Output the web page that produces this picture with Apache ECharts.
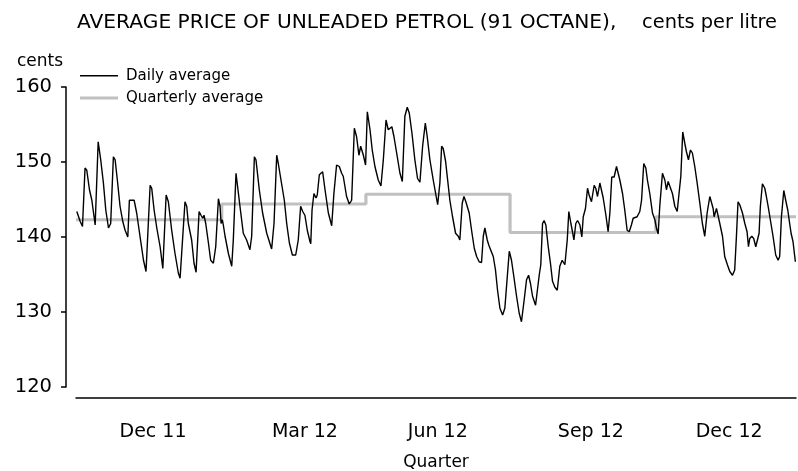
<!DOCTYPE html>
<html>
<head>
<meta charset="utf-8">
<script src="https://cdn.jsdelivr.net/npm/echarts@6/dist/echarts.min.js"></script>
<style>
html,body{margin:0;padding:0;background:#fff;}
#chart{width:798px;height:471px;}
</style>
</head>
<body>
<div id="chart"></div>
<script>
// Day number counted from 1 Oct 2011
const days = [
0.5,2.6,4.1,5.7,6.8,8.5,10.0,12.1,14.0,15.6,17.3,18.8,20.5,21.9,23.6,24.7,26.1,27.8,29.5,31.0,
32.7,33.7,35.2,36.7,38.3,40.4,42.6,44.2,45.3,46.8,47.8,49.3,51.0,53.1,54.8,56.9,58.3,60.4,62.5,64.6,
65.7,68.8,69.9,70.9,73.0,74.5,75.8,77.7,78.9,80.0,80.8,81.9,83.6,85.0,86.7,88.2,89.9,90.9,91.6,92.4,
93.0,94.1,96.2,98.3,99.3,101.0,101.9,103.5,105.6,107.7,109.8,110.9,112.6,113.6,115.7,117.8,120.4,123.5,125.0,126.7,
127.7,129.4,131.5,133.0,134.7,136.6,138.7,140.3,141.8,143.1,144.5,146.0,147.7,148.2,149.0,150.2,151.5,152.3,153.6,154.6,
155.7,157.2,159.3,161.4,162.8,164.5,166.2,167.7,168.7,170.8,172.5,174.0,175.7,177.1,178.6,179.7,180.5,181.4,182.8,183.9,
185.6,187.0,188.7,190.8,192.5,194.0,195.7,197.1,198.2,199.4,200.7,202.8,204.5,206.0,207.6,209.1,210.4,212.1,213.9,215.6,
217.1,218.8,220.5,221.7,223.4,225.5,227.2,228.3,229.7,230.8,231.8,233.3,234.6,236.0,237.7,239.6,241.3,242.3,243.8,244.9,
246.1,247.0,248.2,249.7,251.4,252.9,254.5,256.0,257.1,258.1,259.6,260.6,261.7,263.4,264.8,266.1,267.6,269.3,270.7,271.8,
273.5,274.9,276.4,278.1,279.8,281.2,282.9,284.4,285.7,286.9,288.2,289.0,290.1,291.3,292.4,293.4,294.5,295.5,296.6,298.1,
299.5,300.8,302.3,303.8,305.4,306.9,308.0,308.6,310.1,311.1,312.4,313.4,314.3,315.5,316.6,318.1,319.3,320.2,321.6,322.9,
323.9,325.4,327.1,328.1,329.2,330.7,331.3,332.8,334.5,335.9,337.0,338.2,339.7,341.2,342.2,343.3,345.0,346.4,347.9,349.2,
350.6,351.7,352.8,354.2,355.9,357.0,358.4,359.7,360.7,362.2,363.9,365.4,366.4,367.5,368.5,370.2,371.7,372.7,373.8,374.8,
376.5,378.0,379.5,380.7,381.8,383.0,384.3,385.3,386.6,387.9,389.1,390.6,392.1,393.8,395.4,396.9,398.4,400.1,401.1,402.2,
402.8,404.3,405.3,406.4,408.1,409.5,411.2,412.7,414.4,415.8,416.9,417.9,419.0,420.7,422.2,423.6,424.5,425.3,426.6,427.8,
429.1,429.9,431.2,432.0,433.3,434.8,435.8,436.9,438.3,440.0,441.7,443.2,444.2,445.3,446.8,448.0,449.3,450.5,451.4,452.6,
454.1
];
const dailyPrice = [
143.4,142.1,141.4,149.2,148.9,146.3,144.9,141.6,152.7,150.3,147.2,143.6,141.2,141.8,150.7,150.3,147.6,144.1,142.1,140.9,
140.0,144.9,144.9,144.9,143.2,140.1,136.9,135.4,135.4,146.9,146.5,143.6,141.2,138.7,135.8,145.6,144.7,140.9,137.8,135.2,
134.5,144.7,144.1,141.8,139.6,136.5,135.3,143.4,142.9,142.5,142.9,141.8,139.2,136.9,136.5,138.7,145.1,144.1,141.8,142.3,
141.6,140.1,137.8,136.1,139.6,148.5,148.3,144.1,140.5,139.6,138.3,140.1,150.7,150.3,146.3,143.2,140.5,138.4,141.8,150.9,
149.8,147.6,144.9,141.8,139.2,137.6,137.6,139.6,144.1,143.4,142.9,140.9,139.4,139.1,143.6,145.8,145.2,145.6,148.3,148.1,
148.7,146.3,143.2,141.5,145.8,149.6,149.4,148.5,148.1,145.4,144.4,144.9,154.5,153.4,150.9,152.1,152.3,150.9,149.6,156.7,
154.3,151.6,149.4,147.6,146.8,150.3,155.6,154.3,154.5,154.7,153.4,150.7,148.5,147.4,156.1,157.3,156.5,153.8,150.3,147.8,
147.3,152.1,155.2,153.4,150.3,147.6,145.6,144.3,147.2,152.1,151.8,150.1,147.6,144.9,142.7,140.5,140.1,139.6,144.5,145.4,
144.7,144.9,143.2,140.9,138.5,137.4,136.7,136.6,140.1,141.2,139.6,138.9,138.9,137.4,135.6,132.9,130.5,129.6,130.5,130.7,
138.1,136.9,134.7,132.1,129.8,128.7,131.6,134.3,134.9,133.8,132.1,132.3,130.9,130.8,134.9,136.3,141.8,142.2,141.6,138.7,
136.5,134.1,133.3,132.9,136.1,136.9,136.7,136.3,139.6,143.4,141.8,140.7,139.6,141.8,142.2,141.6,140.0,142.7,143.8,146.5,
145.6,144.7,146.9,146.5,145.4,147.2,147.2,145.2,142.9,140.7,143.2,148.0,148.0,149.4,149.4,147.6,145.8,143.6,140.9,140.7,
141.6,142.5,142.5,142.7,143.4,144.9,149.8,149.2,147.6,145.8,143.2,142.3,141.2,140.4,144.1,148.5,147.6,146.3,147.4,147.6,
145.8,144.1,143.4,143.6,148.1,154.0,152.5,151.4,150.3,151.6,151.2,149.4,147.2,144.5,141.8,140.1,143.2,145.4,145.2,143.8,
142.7,143.8,143.6,141.8,140.1,137.4,136.3,135.4,134.9,135.6,140.1,144.7,144.3,143.2,141.8,140.7,138.7,139.8,140.1,139.8,
138.7,138.5,140.5,144.1,147.1,146.5,145.4,144.1,142.3,140.1,137.6,136.9,137.4,142.7,146.2,144.9,143.6,141.8,140.5,139.4,
136.7
];
// Quarter start days and quarterly averages
const quarterStart = [0, 92, 183, 274, 366];
const quarterAvg = [142.3, 144.4, 145.7, 140.6, 142.7];
const lastDay = 454.5;
// Quarter tick labels and their positions (days)
const quarterLabels = ['Dec 11', 'Mar 12', 'Jun 12', 'Sep 12', 'Dec 12'];
const quarterLabelDays = [48.6, 144.5, 228.4, 325, 412.3];
const yTicks = [120, 130, 140, 150, 160];

const FONT = 'DejaVu Sans';
const dailyData = days.map((d, i) => [d, dailyPrice[i]]);
const quarterData = quarterStart.map((d, i) => [d, quarterAvg[i]]);
quarterData.push([lastDay, quarterAvg[quarterAvg.length - 1]]);

const legendText = {fontFamily: FONT, fontSize: 15, color: '#000', padding: [0, 0, 0, 3]};

const chart = echarts.init(document.getElementById('chart'), null, {renderer: 'canvas'});
chart.setOption({
  animation: false,
  backgroundColor: '#fff',
  title: {
    text: '{a|AVERAGE PRICE OF UNLEADED PETROL (91 OCTANE),    }{b|cents per litre}',
    left: 77, top: 13, padding: 0,
    textStyle: {
      fontFamily: FONT, fontSize: 20.2, fontWeight: 'normal', color: '#000',
      rich: {
        a: {fontFamily: FONT, fontSize: 20.2, color: '#000'},
        b: {fontFamily: FONT, fontSize: 19.4, color: '#000'}
      }
    }
  },
  legend: [
    {
      orient: 'vertical', left: 80, top: 68.3, padding: 0,
      itemWidth: 38, itemHeight: 1.5, icon: 'rect',
      data: ['Daily average'], textStyle: legendText
    },
    {
      orient: 'vertical', left: 80, top: 90.5, padding: 0,
      itemWidth: 38, itemHeight: 3, icon: 'rect',
      data: ['Quarterly average'], textStyle: legendText
    }
  ],
  grid: {left: 76, right: 2, top: 87, bottom: 84, containLabel: false, outerBoundsMode: 'none'},
  xAxis: {
    type: 'value', min: 0, max: lastDay, position: 'bottom', offset: 11,
    axisLine: {show: true, onZero: false, lineStyle: {color: '#000', width: 1.5}},
    axisTick: {show: false},
    splitLine: {show: false},
    axisLabel: {
      customValues: quarterLabelDays,
      margin: 25,
      fontFamily: FONT, fontSize: 19, color: '#000',
      formatter: function (v) {
        let best = 0, bd = Infinity;
        quarterLabelDays.forEach((d, i) => { const dd = Math.abs(d - v); if (dd < bd) { bd = dd; best = i; } });
        return quarterLabels[best];
      }
    },
    name: 'Quarter', nameLocation: 'middle', nameGap: 56,
    nameTextStyle: {fontFamily: FONT, fontSize: 17, color: '#000'}
  },
  yAxis: {
    type: 'value', min: 120, max: 160, interval: 10, offset: 10,
    axisLine: {show: true, onZero: false, lineStyle: {color: '#000', width: 1.5}},
    axisTick: {show: true, inside: false, length: 5, lineStyle: {color: '#000', width: 1.5}},
    splitLine: {show: false},
    axisLabel: {
      customValues: yTicks,
      margin: 14, fontFamily: FONT, fontSize: 19.5, color: '#000'
    },
    name: 'cents', nameLocation: 'end', nameGap: 25,
    nameTextStyle: {fontFamily: FONT, fontSize: 17, color: '#000', align: 'right', verticalAlign: 'middle', padding: [0, 3, 0, 0]}
  },
  series: [
    {
      name: 'Daily average', type: 'line', data: dailyData, symbol: 'none', z: 3,
      lineStyle: {color: '#000', width: 1.4}, itemStyle: {color: '#000'}
    },
    {
      name: 'Quarterly average', type: 'line', data: quarterData, step: 'end', symbol: 'none', z: 2,
      lineStyle: {color: '#c0c0c0', width: 3.2}, itemStyle: {color: '#c0c0c0'}
    }
  ]
});
</script>
</body>
</html>
